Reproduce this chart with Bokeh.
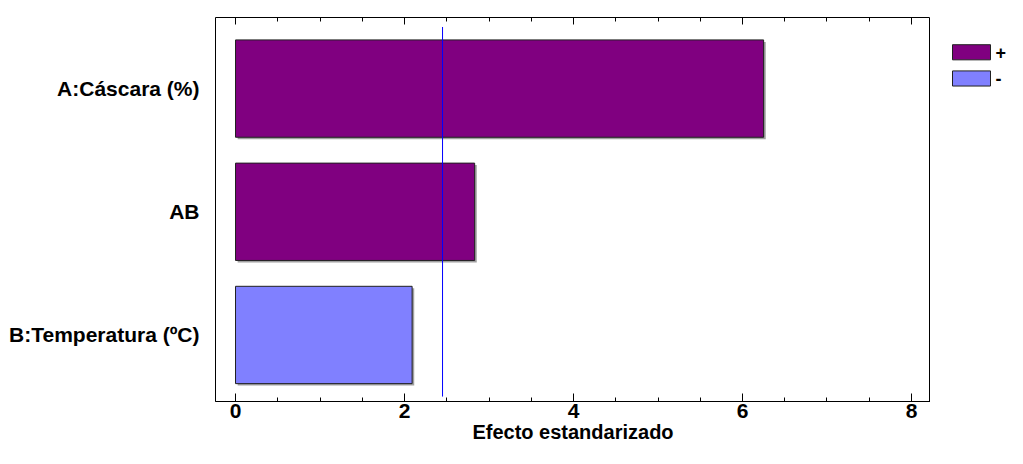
from bokeh.plotting import figure
from bokeh.layouts import row
from bokeh.models import (ColumnDataSource, FixedTicker, LinearAxis, Range1d,
                          CustomJSTickFormatter)
from bokeh.core.properties import value
from bokeh.embed import file_html
from bokeh.resources import INLINE

# ---- data ----
factors = ["A:Cáscara (%)", "AB", "B:Temperatura (ºC)"]
effects = [6.25, 2.83, 2.09]
signs = ["+", "+", "-"]
t_crit = 2.45
x_ticks = [0, 2, 4, 6, 8]
legend_labels = ["+", "-"]

FONT = "Liberation Sans"
POS_COLOR = "#800080"
NEG_COLOR = "#8080FF"
legend_colors = [POS_COLOR, NEG_COLOR]

n = len(factors)
ypos = [n - i for i in range(n)]  # top to bottom

pos = dict(y=[ypos[i] for i in range(n) if signs[i] == "+"],
           v=[effects[i] for i in range(n) if signs[i] == "+"])
neg = dict(y=[ypos[i] for i in range(n) if signs[i] == "-"],
           v=[effects[i] for i in range(n) if signs[i] == "-"])

H = 448
TOP, BOTTOM = 17, 47

p = figure(width=930, height=H, output_backend="svg", toolbar_location=None,
           x_range=Range1d(-0.237, 8.225), y_range=Range1d(0.46, n + 0.577),
           min_border_left=215, min_border_right=0, min_border_top=TOP,
           min_border_bottom=BOTTOM)
p.background_fill_color = "white"
p.border_fill_color = "white"
p.outline_line_color = "black"
p.outline_line_width = 1
p.xgrid.visible = False
p.ygrid.visible = False

# shadows
shadow_dx, shadow_dy = 0.025, 0.016
all_src = ColumnDataSource(dict(y=[yy - shadow_dy for yy in ypos],
                                l=[shadow_dx] * n,
                                r=[e + shadow_dx for e in effects]))
p.hbar(y="y", left="l", right="r", height=0.79, source=all_src,
       fill_color="#A0A0A0", line_color=None)

p.hbar(y="y", left=0, right="v", height=0.79, source=ColumnDataSource(pos),
       fill_color=POS_COLOR, line_color="#202020", line_width=1)
p.hbar(y="y", left=0, right="v", height=0.79, source=ColumnDataSource(neg),
       fill_color=NEG_COLOR, line_color="#202020", line_width=1)

# critical value line
p.segment(x0=[t_crit], x1=[t_crit], y0=[0.5], y1=[n + 0.5],
          line_color="#0000FF", line_width=1)

minor = [x / 2 for x in range(0, 17)]

# x axis
xa = p.xaxis[0]
xa.ticker = FixedTicker(ticks=x_ticks, minor_ticks=minor)
xa.major_tick_in = 8
xa.major_tick_out = 0
xa.minor_tick_in = 4
xa.minor_tick_out = 0
xa.major_label_text_font = FONT
xa.major_label_text_font_style = "bold"
xa.major_label_text_font_size = "21px"
xa.major_label_text_color = "black"
xa.major_label_standoff = 2
xa.axis_label = "Efecto estandarizado"
xa.axis_label_text_font = FONT
xa.axis_label_text_font_style = "bold"
xa.axis_label_text_font_size = "20px"
xa.axis_label_text_color = "black"
xa.axis_label_standoff = 0
xa.axis_line_color = "black"

# top axis with ticks only
ta = LinearAxis(ticker=FixedTicker(ticks=x_ticks, minor_ticks=minor),
                formatter=CustomJSTickFormatter(code="return ''"))
ta.major_tick_in = 7
ta.major_tick_out = 0
ta.minor_tick_in = 4
ta.minor_tick_out = 0
ta.major_label_standoff = 0
ta.axis_line_color = None
p.add_layout(ta, "above")

# y axis
ya = p.yaxis[0]
ya.ticker = FixedTicker(ticks=ypos)
ya.major_label_overrides = {ypos[i]: factors[i] for i in range(n)}
ya.major_tick_in = 0
ya.major_tick_out = 0
ya.minor_tick_in = 0
ya.minor_tick_out = 0
ya.axis_line_color = None
ya.major_label_text_font = FONT
ya.major_label_text_font_style = "bold"
ya.major_label_text_font_size = "21px"
ya.major_label_text_color = "black"
ya.major_label_standoff = 16

# ---- legend panel (small figure; its frame is aligned with the main frame) ----
LG_W = 77
frame_bottom_px = 398  # approximate canvas y of the main frame bottom
lg = figure(width=LG_W, height=H, output_backend="svg", toolbar_location=None,
            x_range=Range1d(0, LG_W), y_range=Range1d(frame_bottom_px, TOP),
            min_border=0, min_border_left=0, min_border_right=0,
            min_border_top=TOP, min_border_bottom=BOTTOM)
lg.axis.visible = False
lg.xgrid.visible = False
lg.ygrid.visible = False
lg.outline_line_color = None
lg.background_fill_color = "white"
lg.border_fill_color = "white"

sw_x, sw_w, sw_h, sw_top, sw_step, lab_gap = 22, 38, 15, 44, 26, 5
idx = list(range(len(legend_labels)))
sw = ColumnDataSource(dict(
    left=[sw_x] * len(idx), right=[sw_x + sw_w] * len(idx),
    top=[sw_top + sw_step * i for i in idx],
    bottom=[sw_top + sw_step * i + sw_h for i in idx],
    color=legend_colors,
    tx=[sw_x + sw_w + lab_gap] * len(idx),
    ty=[sw_top + sw_step * i + sw_h / 2 for i in idx],
    label=legend_labels))
lg.quad(left="left", right="right", top="top", bottom="bottom", source=sw,
        fill_color="color", line_color="#202020", line_width=1)
lg.text(x="tx", y="ty", text="label", source=sw, text_font=value(FONT),
        text_font_style="bold", text_font_size="18px", text_color="black",
        text_align="left", text_baseline="middle")

layout = row(p, lg, spacing=0)
open("out.html", "w").write(file_html(layout, INLINE))
